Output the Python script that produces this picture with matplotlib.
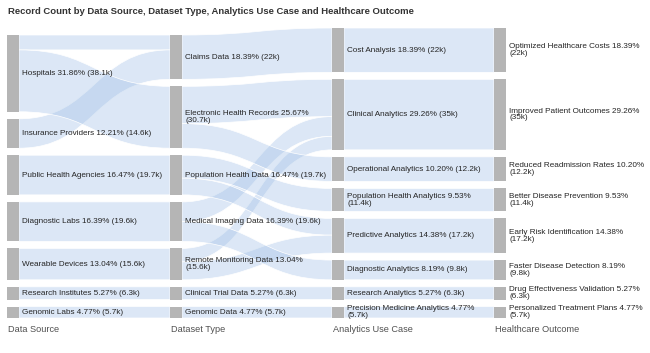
import matplotlib
matplotlib.use("Agg")
import matplotlib.pyplot as plt
from matplotlib.path import Path
from matplotlib.patches import PathPatch, Rectangle

plt.rcParams['font.family'] = ['Liberation Sans', 'DejaVu Sans']

title = "Record Count by Data Source, Dataset Type, Analytics Use Case and Healthcare Outcome"
stage_names = ["Data Source", "Dataset Type", "Analytics Use Case", "Healthcare Outcome"]

data_sources = ["Hospitals", "Insurance Providers", "Public Health Agencies", "Diagnostic Labs",
                "Wearable Devices", "Research Institutes", "Genomic Labs"]
dataset_types = ["Claims Data", "Electronic Health Records", "Population Health Data",
                 "Medical Imaging Data", "Remote Monitoring Data", "Clinical Trial Data", "Genomic Data"]
use_cases = ["Cost Analysis", "Clinical Analytics", "Operational Analytics", "Population Health Analytics",
             "Predictive Analytics", "Diagnostic Analytics", "Research Analytics",
             "Precision Medicine Analytics"]
outcomes = ["Optimized Healthcare Costs", "Improved Patient Outcomes", "Reduced Readmission Rates",
            "Better Disease Prevention", "Early Risk Identification", "Faster Disease Detection",
            "Drug Effectiveness Validation", "Personalized Treatment Plans"]

# record counts in thousands
source_to_dataset = [
    ("Hospitals", "Claims Data", 7.4),
    ("Hospitals", "Electronic Health Records", 30.7),
    ("Insurance Providers", "Claims Data", 14.6),
    ("Public Health Agencies", "Population Health Data", 19.7),
    ("Diagnostic Labs", "Medical Imaging Data", 19.6),
    ("Wearable Devices", "Remote Monitoring Data", 15.6),
    ("Research Institutes", "Clinical Trial Data", 6.3),
    ("Genomic Labs", "Genomic Data", 5.7),
]
dataset_to_usecase = [
    ("Claims Data", "Cost Analysis", 22.0),
    ("Electronic Health Records", "Clinical Analytics", 18.5),
    ("Electronic Health Records", "Operational Analytics", 12.2),
    ("Population Health Data", "Population Health Analytics", 11.4),
    ("Population Health Data", "Predictive Analytics", 8.3),
    ("Medical Imaging Data", "Clinical Analytics", 9.8),
    ("Medical Imaging Data", "Diagnostic Analytics", 9.8),
    ("Remote Monitoring Data", "Clinical Analytics", 6.7),
    ("Remote Monitoring Data", "Predictive Analytics", 8.9),
    ("Clinical Trial Data", "Research Analytics", 6.3),
    ("Genomic Data", "Precision Medicine Analytics", 5.7),
]
usecase_to_outcome = [
    ("Cost Analysis", "Optimized Healthcare Costs", 22.0),
    ("Clinical Analytics", "Improved Patient Outcomes", 35.0),
    ("Operational Analytics", "Reduced Readmission Rates", 12.2),
    ("Population Health Analytics", "Better Disease Prevention", 11.4),
    ("Predictive Analytics", "Early Risk Identification", 17.2),
    ("Diagnostic Analytics", "Faster Disease Detection", 9.8),
    ("Research Analytics", "Drug Effectiveness Validation", 6.3),
    ("Precision Medicine Analytics", "Personalized Treatment Plans", 5.7),
]

columns = [data_sources, dataset_types, use_cases, outcomes]
link_sets = [source_to_dataset, dataset_to_usecase, usecase_to_outcome]

# node values
values = [{n: 0.0 for n in col} for col in columns]
for n in data_sources:
    values[0][n] = sum(v for s, t, v in source_to_dataset if s == n)
for i, links in enumerate(link_sets):
    for s, t, v in links:
        values[i + 1][t] += v
total = sum(values[0].values())

fig = plt.figure(figsize=(6.5, 3.53), dpi=100)
ax = fig.add_axes([0, 0, 1, 1])
ax.set_xlim(0, 650)
ax.set_ylim(353, 0)
ax.axis('off')

scale = 2.015
gap = 7
bottom = 318
node_w = 12
col_x = [7, 170, 332, 494]

# node positions
pos = []
for ci, col in enumerate(columns):
    h = sum(values[ci][n] for n in col) * scale + gap * (len(col) - 1)
    y = bottom - h
    p = {}
    for n in col:
        p[n] = (y, y + values[ci][n] * scale)
        y += values[ci][n] * scale + gap
    pos.append(p)

link_color = (0.616, 0.741, 0.902, 0.35)


def band(x0, y0a, y0b, x1, y1a, y1b):
    xm = (x0 + x1) / 2
    verts = [(x0, y0a), (xm, y0a), (xm, y1a), (x1, y1a), (x1, y1b),
             (xm, y1b), (xm, y0b), (x0, y0b), (x0, y0a)]
    codes = [Path.MOVETO, Path.CURVE4, Path.CURVE4, Path.CURVE4, Path.LINETO,
             Path.CURVE4, Path.CURVE4, Path.CURVE4, Path.CLOSEPOLY]
    return PathPatch(Path(verts, codes), facecolor=link_color, edgecolor='white', lw=0.5, zorder=1)


for i, links in enumerate(link_sets):
    src_col, tgt_col = columns[i], columns[i + 1]
    out_off = {n: pos[i][n][0] for n in src_col}
    in_off = {n: pos[i + 1][n][0] for n in tgt_col}
    by_src = sorted(links, key=lambda l: (src_col.index(l[0]), tgt_col.index(l[1])))
    starts = {}
    for s, t, v in by_src:
        starts[(s, t)] = out_off[s]
        out_off[s] += v * scale
    by_tgt = sorted(links, key=lambda l: (tgt_col.index(l[1]), src_col.index(l[0])))
    for s, t, v in by_tgt:
        y0 = starts[(s, t)]
        y1 = in_off[t]
        in_off[t] += v * scale
        ax.add_patch(band(col_x[i] + node_w, y0, y0 + v * scale, col_x[i + 1], y1, y1 + v * scale))

# nodes and labels
fig.canvas.draw()
renderer = fig.canvas.get_renderer()
for ci, col in enumerate(columns):
    limit = 136 if ci == 3 else 145
    for n in col:
        y0, y1 = pos[ci][n]
        ax.add_patch(Rectangle((col_x[ci], y0), node_w, y1 - y0, facecolor='#b5b5b5',
                               edgecolor='none', zorder=2))
        v = values[ci][n]
        first = f"{n} {v / total * 100:.2f}%"
        second = f"({v:g}k)"
        t = ax.text(col_x[ci] + node_w + 3, (y0 + y1) / 2, first + " " + second,
                    fontsize=5.9, color='#252525', va='center', ha='left', zorder=3,
                    linespacing=0.95)
        if t.get_window_extent(renderer).width > limit:
            t.set_text(first + "\n" + second)

for ci, name in enumerate(stage_names):
    ax.text(col_x[ci] + 1, 330, name, fontsize=6.6, color='#505050', va='center', ha='left')

ax.text(8, 12, title, fontsize=6.8, fontweight='bold', color='#333333', va='center', ha='left')

fig.savefig("out.png", dpi=100)
